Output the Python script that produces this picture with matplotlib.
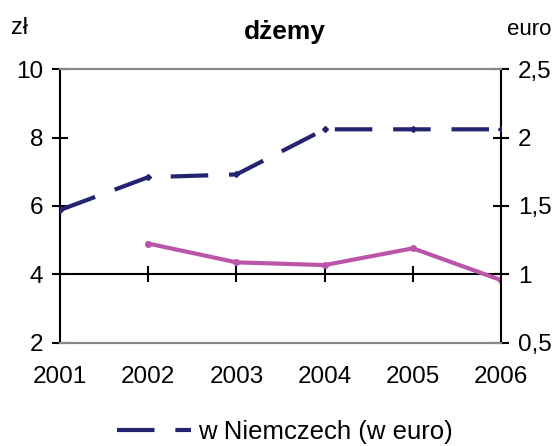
import numpy as np
import matplotlib
matplotlib.use('Agg')
import matplotlib.pyplot as plt
from matplotlib.lines import Line2D

plt.rcParams['font.family'] = ['Liberation Sans', 'DejaVu Sans']

years = ['2001', '2002', '2003', '2004', '2005', '2006']
de_euro = [1.47, 1.71, 1.73, 2.06, 2.06, 2.06]          # w Niemczech (w euro), prawa oś
pl_zl = [np.nan, 4.9, 4.35, 4.27, 4.76, 3.83]           # w Polsce (zł), lewa oś

zl_ticks = [2, 4, 6, 8, 10]
euro_ticks = [0.5, 1, 1.5, 2, 2.5]
euro_labels = ['0,5', '1', '1,5', '2', '2,5']

navy = '#232370'
pink = '#BB55AA'

fig = plt.figure(figsize=(5.58, 4.46), dpi=100)
ax = fig.add_axes([0.1075, 0.2316, 0.7905, 0.6134])
ax2 = ax.twinx()

x = np.arange(len(years))

## lines
ax.plot(x, pl_zl, color=pink, lw=3, marker='o', ms=4, zorder=3)
ax2.plot(x, de_euro, color=navy, lw=3, dashes=(9, 5), marker='D', ms=3,
         zorder=3)

ax.set_xlim(0, len(years) - 1)
ax.set_ylim(2, 10)
ax2.set_ylim(0.5, 2.5)

## axes styling
for a in (ax, ax2):
    a.spines['top'].set_color('#888888')
    a.spines['bottom'].set_color('#888888')
    a.spines['top'].set_linewidth(1.5)
    a.spines['bottom'].set_linewidth(1.5)
ax.spines['left'].set_linewidth(1.5)
ax2.spines['right'].set_linewidth(1.5)
ax.spines['right'].set_visible(False)
ax2.spines['left'].set_visible(False)

ax.set_yticks(zl_ticks)
ax.set_yticklabels([str(t) for t in zl_ticks])
ax2.set_yticks(euro_ticks)
ax2.set_yticklabels(euro_labels)
ax.tick_params(axis='y', direction='inout', length=12, width=1.5,
               labelsize=17.5, pad=6)
ax2.tick_params(axis='y', direction='inout', length=12, width=1.5,
                labelsize=17.5, pad=6)

ax.set_xticks(x)
ax.set_xticklabels(years)
ax.tick_params(axis='x', length=0, labelsize=17.5, pad=17)

## category axis crossing at 4 zł
sec = ax.secondary_xaxis((4 - 2) / (10 - 2))
sec.set_xticks(x[1:-1])
sec.set_xticklabels([])
sec.tick_params(axis='x', direction='inout', length=12, width=1.5)
sec.spines['bottom'].set_linewidth(1.5)
sec.spines['bottom'].set_color('black')

## texts
fig.text(0.511, 0.928, 'dżemy', ha='center', va='center', fontsize=19,
         fontweight='bold')
fig.text(0.02, 0.937, 'zł', ha='left', va='center', fontsize=17)
fig.text(0.908, 0.933, 'euro', ha='left', va='center', fontsize=16)

handle = Line2D([], [], color=navy, lw=3, dashes=(9, 5))
fig.legend([handle], ['w Niemczech (w euro)'], loc='center',
           bbox_to_anchor=(0.51, 0.031), frameon=False, fontsize=18.5,
           handlelength=2.9, handletextpad=0.25)

fig.savefig('out.png', dpi=100)
